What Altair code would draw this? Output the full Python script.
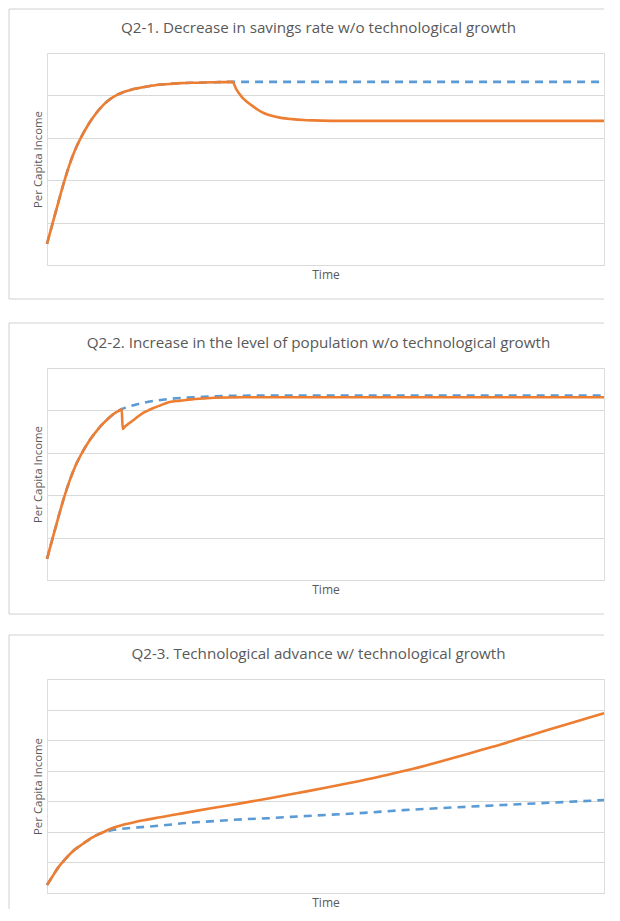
import altair as alt
import pandas as pd

# ---------------- data ----------------
titles = [
    "Q2-1. Decrease in savings rate w/o technological growth",
    "Q2-2. Increase in the level of population w/o technological growth",
    "Q2-3. Technological advance w/ technological growth",
]
x_title = "Time"
y_title = "Per Capita Income"

# Panel 1
p1_blue_t = [0, 1, 2, 3, 4, 5, 6, 7, 8, 9, 10, 11, 12, 13, 14, 15, 16, 18, 20, 22, 24, 27, 30, 33.3, 60, 100]
p1_blue_v = [0.50, 0.98, 1.46, 1.93, 2.35, 2.70, 2.98, 3.22, 3.43, 3.61, 3.76, 3.88, 3.97, 4.04, 4.09, 4.13,
             4.16, 4.21, 4.25, 4.27, 4.29, 4.30, 4.31, 4.32, 4.32, 4.32]
p1_orange_t = [0, 1, 2, 3, 4, 5, 6, 7, 8, 9, 10, 11, 12, 13, 14, 15, 16, 18, 20, 22, 24, 27, 30, 33.3,
               34, 35, 36, 37, 38, 39, 40, 42, 44, 46, 48, 52, 70, 100]
p1_orange_v = [0.50, 0.98, 1.46, 1.93, 2.35, 2.70, 2.98, 3.22, 3.43, 3.61, 3.76, 3.88, 3.97, 4.04, 4.09, 4.13,
               4.16, 4.21, 4.25, 4.27, 4.29, 4.30, 4.31, 4.32,
               4.14, 3.96, 3.84, 3.74, 3.65, 3.58, 3.53, 3.47, 3.44, 3.42, 3.41, 3.40, 3.40, 3.40]

# Panel 2
p2_blue_t = [0, 1, 2, 3, 4, 5, 6, 7, 8, 9, 10, 11, 12, 13, 13.4, 14, 15, 16, 17, 18, 20, 22, 25, 28, 32, 40, 70, 100]
p2_blue_v = [0.50, 0.98, 1.46, 1.92, 2.32, 2.66, 2.93, 3.16, 3.36, 3.53, 3.68, 3.81, 3.92, 4.00, 4.03,
             4.06, 4.10, 4.14, 4.17, 4.20, 4.24, 4.27, 4.30, 4.32, 4.34, 4.35, 4.35, 4.35]
p2_orange_t = [0, 1, 2, 3, 4, 5, 6, 7, 8, 9, 10, 11, 12, 13, 13.4, 13.6, 14, 15, 16, 17, 18, 19, 20, 22, 24,
               26, 28, 30, 35, 40, 70, 100]
p2_orange_v = [0.50, 0.98, 1.46, 1.92, 2.32, 2.66, 2.93, 3.16, 3.36, 3.53, 3.68, 3.81, 3.92, 4.00, 4.03,
               3.56, 3.62, 3.72, 3.82, 3.92, 3.99, 4.05, 4.10, 4.20, 4.23, 4.26, 4.28, 4.30, 4.31, 4.31, 4.31, 4.31]

# Panel 3
p3_blue_t = [0, 1, 2, 3, 4, 5, 6, 7, 8, 9, 10, 11, 12, 14, 16, 18, 20, 25, 30, 35, 40, 46.6, 55, 64, 70,
             82, 90, 100]
p3_blue_v = [0.26, 0.55, 0.83, 1.05, 1.25, 1.42, 1.55, 1.68, 1.80, 1.90, 1.98, 2.03, 2.07, 2.11, 2.14, 2.17,
             2.20, 2.29, 2.35, 2.41, 2.45, 2.52, 2.60, 2.71, 2.77, 2.88, 2.95, 3.04]
p3_orange_t = [0, 1, 2, 3, 4, 5, 6, 7, 8, 9, 10, 11, 12, 14, 16, 18, 20, 25, 30, 35, 40, 45, 50, 55, 60,
               65, 70, 75, 80, 85, 90, 95, 100]
p3_orange_v = [0.26, 0.55, 0.83, 1.05, 1.25, 1.42, 1.55, 1.68, 1.80, 1.90, 1.98, 2.07, 2.14, 2.25, 2.33,
               2.40, 2.47, 2.63, 2.79, 2.94, 3.10, 3.27, 3.44, 3.62, 3.82, 4.03, 4.27, 4.52, 4.78, 5.06,
               5.34, 5.61, 5.88]

grid_values = [[0, 1, 2, 3, 4, 5], [0, 1, 2, 3, 4, 5], [0, 1, 2, 3, 4, 5, 6, 7]]

# ---------------- styling ----------------
BLUE = "#5B9BD5"
ORANGE = "#ED7D31"
GRID = "#d9d9d9"
BORDER = "#d0d0d0"
TEXT = "#595959"
FONT = "Open Sans"
W = 557
LEFT = -38
RIGHT = W


def panel(title, bt, bv, ot, ov, grid, h, top, bottom, closed):
    blue = pd.DataFrame({"t": bt, "v": bv})
    orange = pd.DataFrame({"t": ot, "v": ov})
    dummy = pd.DataFrame({"a": [0]})
    ymax = grid[-1]

    x = alt.X("t:Q", scale=alt.Scale(domain=[0, 100], nice=False, zero=False),
              axis=alt.Axis(title=x_title, labels=False, ticks=False, domain=False, grid=False,
                            titlePadding=4, titleFontSize=12, titleFont=FONT, titleColor=TEXT,
                            titleFontWeight="normal"))
    y = alt.Y("v:Q", scale=alt.Scale(domain=[0, ymax], nice=False),
              axis=alt.Axis(title=y_title, values=grid, labels=False, ticks=False, domain=False,
                            grid=True, gridColor=GRID, gridWidth=1, titlePadding=4,
                            titleFontSize=11.4, titleFont=FONT, titleColor=TEXT,
                            titleFontWeight="normal"))

    rules = [
        alt.Chart(dummy).mark_rule(color=BORDER, strokeWidth=1).encode(
            x=alt.value(LEFT), x2=alt.value(RIGHT), y=alt.value(top)),
        alt.Chart(dummy).mark_rule(color=BORDER, strokeWidth=1).encode(
            x=alt.value(LEFT), y=alt.value(top), y2=alt.value(h + bottom)),
    ]
    if closed:
        rules.append(alt.Chart(dummy).mark_rule(color=BORDER, strokeWidth=1).encode(
            x=alt.value(LEFT), x2=alt.value(RIGHT), y=alt.value(h + bottom)))
    head = alt.Chart(dummy).mark_text(text=title, font=FONT, fontSize=15.2, color=TEXT,
                                      align="center", baseline="middle").encode(
        x=alt.value(271.5), y=alt.value(-25.5))
    lb = alt.Chart(blue).mark_line(color=BLUE, strokeWidth=2.6, strokeDash=[8, 6],
                                   interpolate="monotone").encode(x=x, y=y)
    lo = alt.Chart(orange).mark_line(color=ORANGE, strokeWidth=2.6,
                                     interpolate="monotone").encode(x=x, y=y)
    return alt.layer(*rules, lb, lo, head).properties(width=W, height=h)


c1 = panel(titles[0], p1_blue_t, p1_blue_v, p1_orange_t, p1_orange_v, grid_values[0], 212, -44, 34, True)
c2 = panel(titles[1], p2_blue_t, p2_blue_v, p2_orange_t, p2_orange_v, grid_values[1], 212, -45, 34, True)
c3 = panel(titles[2], p3_blue_t, p3_blue_v, p3_orange_t, p3_orange_v, grid_values[2], 214, -44, 16, False)

chart = alt.vconcat(alt.vconcat(c1, c2, spacing=22), c3, spacing=19).properties(
    padding=0
).configure_view(stroke=None).configure(background="white")

chart.save("out.html", embed_options={"renderer": "svg", "actions": False})
